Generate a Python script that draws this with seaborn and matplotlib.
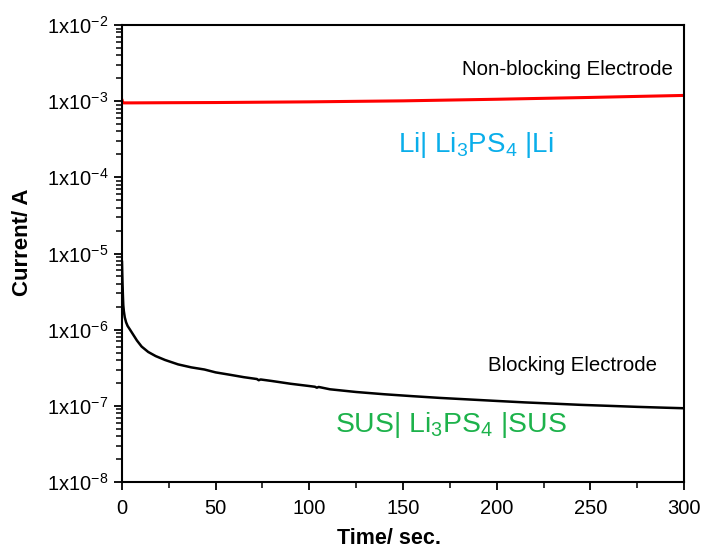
import numpy as np
import pandas as pd
import matplotlib
matplotlib.use("Agg")
import matplotlib.pyplot as plt
from matplotlib.ticker import MultipleLocator, LogLocator, FuncFormatter, NullFormatter
import seaborn as sns

# Li | Li3PS4 | Li (non-blocking) current vs time
time_li = [0.0, 0.3, 0.8, 5, 25, 50, 75, 100, 125, 150, 175, 200, 225, 250, 275, 300]
current_li = [1.05e-3, 0.97e-3, 0.95e-3, 0.95e-3, 0.955e-3, 0.96e-3, 0.97e-3, 0.98e-3,
              0.995e-3, 1.01e-3, 1.035e-3, 1.06e-3, 1.09e-3, 1.12e-3, 1.155e-3, 1.19e-3]

# SUS | Li3PS4 | SUS (blocking) current vs time
time_sus = [0.0, 0.15, 0.3, 0.5, 0.7, 1.0, 1.5, 2.2, 3.0, 4.3, 6, 8, 10.5, 14, 18, 23,
            30, 37, 44, 50, 58, 65, 72, 73, 74, 80, 90, 100, 103, 104, 105, 111, 125,
            140, 155, 170, 186, 200, 215, 230, 245, 260, 275, 290, 300]
current_sus = [8.0e-6, 5.5e-6, 4.0e-6, 2.8e-6, 2.1e-6, 1.75e-6, 1.45e-6, 1.25e-6, 1.12e-6,
               1.0e-6, 8.6e-7, 7.2e-7, 6.0e-7, 5.1e-7, 4.5e-7, 4.0e-7, 3.5e-7, 3.2e-7,
               3.0e-7, 2.75e-7, 2.55e-7, 2.38e-7, 2.25e-7, 2.17e-7, 2.22e-7, 2.12e-7,
               1.95e-7, 1.82e-7, 1.78e-7, 1.73e-7, 1.77e-7, 1.65e-7, 1.52e-7, 1.42e-7,
               1.34e-7, 1.27e-7, 1.21e-7, 1.16e-7, 1.11e-7, 1.07e-7, 1.03e-7, 1.0e-7,
               0.97e-7, 0.945e-7, 0.93e-7]

x_major_ticks = [0, 50, 100, 150, 200, 250, 300]

sns.set_theme(style="ticks")
plt.rcParams["font.family"] = ["Liberation Sans", "DejaVu Sans"]
plt.rcParams["text.color"] = "black"
plt.rcParams["axes.labelcolor"] = "black"
plt.rcParams["mathtext.fontset"] = "custom"
plt.rcParams["mathtext.rm"] = "Liberation Sans"
plt.rcParams["mathtext.it"] = "Liberation Sans:italic"
plt.rcParams["mathtext.bf"] = "Liberation Sans:bold"

fig = plt.figure(figsize=(7.03, 5.51), dpi=100)
ax = fig.add_axes([0.1735, 0.1252, 0.7995, 0.8294])

df_li = pd.DataFrame({"time": time_li, "current": current_li})
df_sus = pd.DataFrame({"time": time_sus, "current": current_sus})

sns.lineplot(data=df_li, x="time", y="current", ax=ax, color="#ff0000", linewidth=2.2,
             estimator=None, sort=False)
sns.lineplot(data=df_sus, x="time", y="current", ax=ax, color="black", linewidth=1.8,
             estimator=None, sort=False)

ax.set_yscale("log")
ax.set_xlim(0, 300)
ax.set_ylim(1e-8, 1e-2)

ax.set_xticks(x_major_ticks)
ax.xaxis.set_minor_locator(MultipleLocator(25))
ax.yaxis.set_major_locator(LogLocator(base=10, numticks=20))
ax.yaxis.set_minor_locator(LogLocator(base=10, subs=np.arange(2, 10), numticks=20))
ax.yaxis.set_major_formatter(FuncFormatter(lambda v, p: r"1x10$^{%d}$" % int(round(np.log10(v)))))
ax.yaxis.set_minor_formatter(NullFormatter())

ax.tick_params(axis="both", which="major", direction="out", length=6, width=1.3,
               labelsize=14.5, colors="black", pad=4)
ax.tick_params(axis="both", which="minor", direction="out", length=4, width=1.1,
               colors="black")
ax.tick_params(axis="x", which="major", pad=6)

for s in ax.spines.values():
    s.set_visible(True)
    s.set_linewidth(1.5)
    s.set_color("black")

ax.set_xlabel("Time/ sec.", fontsize=15.5, fontweight="bold", color="black")
ax.set_ylabel("Current/ A", fontsize=16, fontweight="bold", color="black")
ax.xaxis.set_label_coords(0.475, -0.10)
ax.yaxis.set_label_coords(-0.158, 0.524)

ax.text(294, 2.21e-3, "Non-blocking Electrode", fontsize=14.7, ha="right", va="baseline",
        color="black")
ax.text(189, 2.15e-4, r"Li| Li$_3$PS$_4$ |Li", fontsize=20, ha="center", va="baseline",
        color="#0aaeea")
ax.text(285.5, 2.9e-7, "Blocking Electrode", fontsize=14.7, ha="right", va="baseline",
        color="black")
ax.text(175.6, 4.54e-8, r"SUS| Li$_3$PS$_4$ |SUS", fontsize=20.4, ha="center", va="baseline",
        color="#1db24b")

fig.savefig("out.png", dpi=100)
